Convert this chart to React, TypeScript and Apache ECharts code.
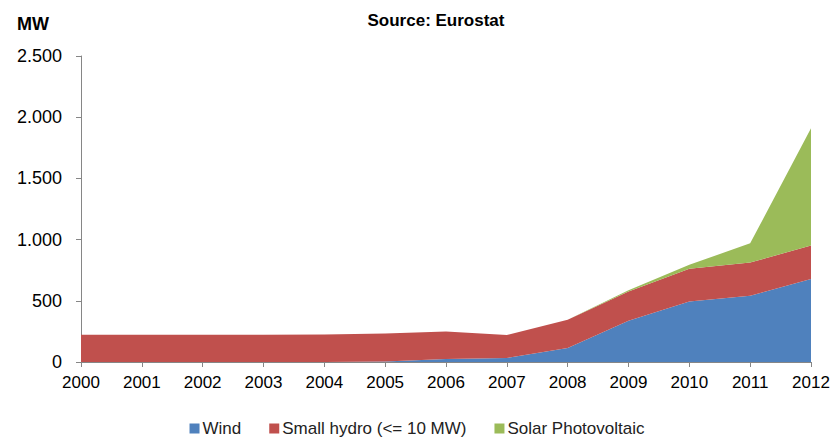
import React, { useEffect, useRef } from "react";
import * as echarts from "echarts";

const years = ["2000", "2001", "2002", "2003", "2004", "2005", "2006", "2007", "2008", "2009", "2010", "2011", "2012"];
const wind = [0, 0, 0, 0, 0, 5, 24, 33, 114, 337, 494, 541, 679];
const smallHydro = [223, 223, 223, 223, 224, 228, 226, 187, 231, 239, 267, 272, 272];
const solarPV = [0, 0, 0, 0, 0, 0, 0, 0, 0, 10, 33, 157, 958];
const yTicks = [0, 500, 1000, 1500, 2000, 2500];

const FONT = "'Liberation Sans', Arial, sans-serif";

export default function App() {
  const ref = useRef<HTMLDivElement>(null);
  useEffect(() => {
    if (!ref.current) return;
    const chart = echarts.init(ref.current, undefined, { renderer: "svg" });
    const fmt = (v: number) => {
      const s = String(v);
      return s.replace(/\B(?=(\d{3})+(?!\d))/g, ".");
    };
    const mk = (name: string, data: number[], color: string) => ({
      name,
      type: "line",
      stack: "total",
      data,
      symbol: "none",
      lineStyle: { width: 0 },
      areaStyle: { color, opacity: 1 },
      itemStyle: { color },
    });
    chart.setOption({
      animation: false,
      backgroundColor: "#ffffff",
      textStyle: { fontFamily: FONT },
      title: [
        {
          text: "Source: Eurostat",
          left: 431,
          top: 7,
          textAlign: "center",
          textStyle: { fontSize: 17, fontWeight: "bold", color: "#000", fontFamily: FONT },
        },
        {
          text: "MW",
          left: 12,
          top: 10,
          textStyle: { fontSize: 18, fontWeight: "bold", color: "#000", fontFamily: FONT },
        },
      ],
      legend: {
        left: "center",
        top: 420,
        padding: 0,
        icon: "rect",
        itemWidth: 10,
        itemHeight: 10,
        itemGap: 28,
        textStyle: { fontSize: 17, color: "#222", fontFamily: FONT, padding: [0, 0, 0, -2] },
        data: ["Wind", "Small hydro (<= 10 MW)", "Solar Photovoltaic"],
      },
      grid: { left: 81, right: 23, top: 56, bottom: 76, containLabel: false },
      xAxis: {
        type: "category",
        data: years,
        boundaryGap: false,
        axisLine: { lineStyle: { color: "#868686", width: 1 } },
        axisTick: { show: true, length: 5, lineStyle: { color: "#868686" }, alignWithLabel: true },
        axisLabel: { fontSize: 17, color: "#000", margin: 12, fontFamily: FONT },
        splitLine: { show: false },
      },
      yAxis: {
        type: "value",
        min: yTicks[0],
        max: yTicks[yTicks.length - 1],
        interval: 500,
        axisLine: { show: true, lineStyle: { color: "#868686", width: 1 } },
        axisTick: { show: true, length: 5, lineStyle: { color: "#868686" } },
        axisLabel: { fontSize: 18, color: "#000", margin: 19, formatter: fmt, fontFamily: FONT },
        splitLine: { show: false },
      },
      series: [
        mk("Wind", wind, "#4F81BD"),
        mk("Small hydro (<= 10 MW)", smallHydro, "#C0504D"),
        mk("Solar Photovoltaic", solarPV, "#9BBB59"),
      ],
    });
    return () => chart.dispose();
  }, []);
  return <div ref={ref} style={{ width: 834, height: 438, position: "absolute", left: 0, top: 0 }} />;
}
